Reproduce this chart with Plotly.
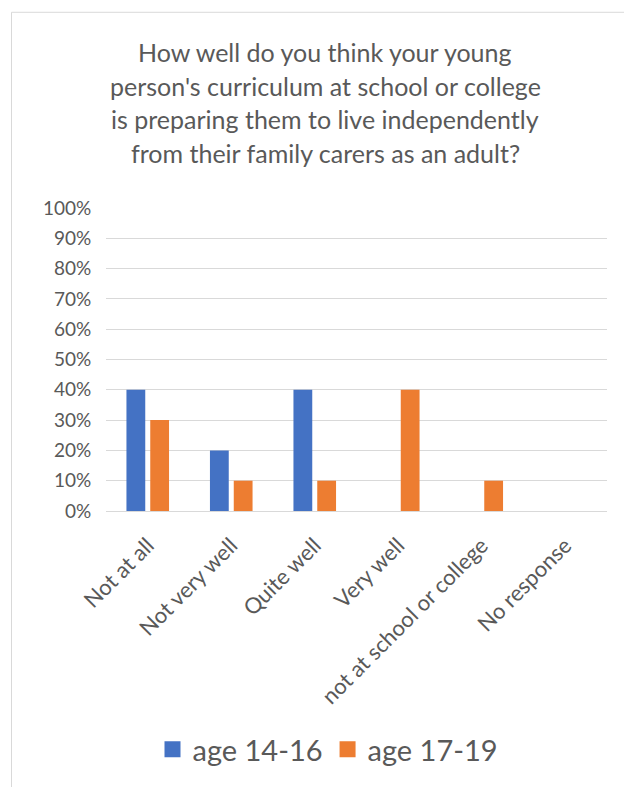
import plotly.graph_objects as go

categories = ["Not at all", "Not very well", "Quite well", "Very well",
              "not at school or college", "No response"]
age_14_16 = [0.40, 0.20, 0.40, 0.0, 0.0, 0.0]
age_17_19 = [0.30, 0.10, 0.10, 0.40, 0.10, 0.0]
series_names = ["age 14-16", "age 17-19"]
series_colors = ["#4472C4", "#ED7D31"]
title_lines = ["How well do you think your young",
               "person's curriculum at school or college",
               "is preparing them to live independently",
               "from their family carers as an adult?"]
y_ticks = [i / 10 for i in range(11)]
y_tick_labels = [f"{i*10}%" for i in range(11)]

W, H = 624, 787
L, R, T, B = 106, 607, 208, 513
FONT = "Lato, 'Open Sans', sans-serif"
GRAY = "#595959"

def px_x(p):
    return (p - L) / (R - L)

def px_y(p):
    return (B - p) / (B - T)

fig = go.Figure()
for name, vals, col in zip(series_names, [age_14_16, age_17_19], series_colors):
    fig.add_trace(go.Bar(x=categories, y=vals, name=name,
                         marker=dict(color=col, line=dict(width=0)),
                         showlegend=False))
# legend entries with larger square swatches
for name, col in zip(series_names, series_colors):
    fig.add_trace(go.Scatter(x=[None], y=[None], mode="markers", name=name,
                             marker=dict(symbol="square", size=16, color=col),
                             showlegend=True))

annotations = []
for i, line in enumerate(title_lines):
    annotations.append(dict(text=line, xref="paper", yref="paper",
                            x=px_x(325), y=px_y(51 + i * 33.8),
                            showarrow=False, xanchor="center", yanchor="middle",
                            font=dict(family=FONT, size=25, color=GRAY)))

fig.update_layout(
    width=W, height=H,
    margin=dict(l=L, r=W - R, t=T, b=H - B, pad=0),
    paper_bgcolor="white", plot_bgcolor="white",
    barmode="group", bargap=0.43, bargroupgap=0.21,
    showlegend=True,
    legend=dict(orientation="h", x=px_x(328), y=px_y(753), xanchor="center",
                yanchor="middle", font=dict(family=FONT, size=29, color=GRAY),
                itemwidth=30, traceorder="normal"),
    annotations=annotations,
    shapes=[dict(type="rect", xref="paper", yref="paper",
                 x0=px_x(11.5), x1=px_x(640), y0=px_y(800), y1=px_y(11),
                 line=dict(color="#D9D9D9", width=1), layer="below")],
    xaxis=dict(type="category", tickangle=-45,
               tickfont=dict(family=FONT, size=22, color=GRAY),
               showline=True, linecolor="#D9D9D9", ticks="outside", ticklen=12,
               tickcolor="rgba(0,0,0,0)", showgrid=False),
    yaxis=dict(range=[0, 1.0], tickvals=y_ticks, ticktext=y_tick_labels,
               tickfont=dict(family=FONT, size=19, color=GRAY),
               showgrid=True, gridcolor="#D9D9D9", gridwidth=1,
               zeroline=False, showline=False, ticks="outside", ticklen=10,
               tickcolor="rgba(0,0,0,0)", fixedrange=True),
)

fig.write_html("out.html", config={"displayModeBar": False},
               post_script="document.body.style.margin='0px';")
